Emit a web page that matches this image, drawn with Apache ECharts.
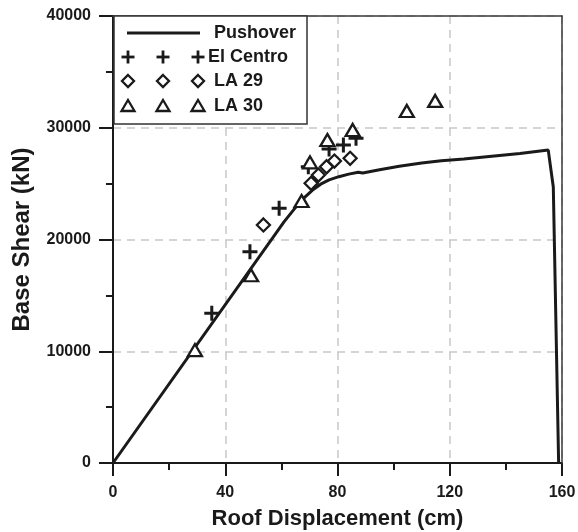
<!DOCTYPE html>
<html>
<head>
<meta charset="utf-8">
<script src="https://cdn.jsdelivr.net/npm/echarts@6/dist/echarts.min.js"></script>
<style>
html,body{margin:0;padding:0;background:#fff;}
#chart{width:578px;height:532px;}
</style>
</head>
<body>
<div id="chart"></div>
<script>
// Pushover curve (roof displacement cm, base shear kN)
var pushX = [0, 61, 64.5, 67.8, 71, 74, 77, 80.5, 84, 87.4, 89, 95, 102, 110, 117, 125, 135, 145, 155.1, 156.9, 158.8];
var pushY = [0, 21600, 22700, 23650, 24400, 24950, 25330, 25620, 25850, 26020, 25950, 26250, 26550, 26850, 27050, 27200, 27450, 27700, 28000, 24700, 0];

var elCentroX = [35.2, 48.8, 59.2, 69.6, 77.0, 82.1, 86.6];
var elCentroY = [13400, 18900, 22800, 26500, 28100, 28460, 29060];

var la29X = [53.6, 70.6, 73.2, 76.1, 78.9, 84.5];
var la29Y = [21300, 25030, 25770, 26510, 27020, 27270];

var la30X = [29.2, 49.2, 67.2, 70.2, 76.4, 85.4, 104.7, 114.8];
var la30Y = [10100, 16800, 23440, 26900, 28900, 29800, 31500, 32400];

var xTicks = [0, 40, 80, 120, 160];
var yTicks = [0, 10000, 20000, 30000, 40000];

function pairs(xs, ys){ return xs.map(function(x,i){ return [x, ys[i]]; }); }

var FONT = '"Liberation Sans", Arial, Helvetica, sans-serif';
var INK = '#1a1a1a';
var PLUS = 'path://M5.6,0H8.4V5.6H14V8.4H8.4V14H5.6V8.4H0V5.6H5.6Z';

var chart = echarts.init(document.getElementById('chart'), null, {renderer:'canvas'});

var legendRows = [
  {name:'Pushover', y:33, type:'line', tx:214},
  {name:'El Centro', y:57, type:'plus', tx:208},
  {name:'LA 29', y:81, type:'diamond', tx:214},
  {name:'LA 30', y:106, type:'triangle', tx:214}
];
var gEls = [{
  type:'rect', shape:{x:114, y:16, width:193, height:108},
  style:{fill:'#fff', stroke:'#333', lineWidth:1.5}, z:100
}];
legendRows.forEach(function(r){
  if (r.type === 'line') {
    gEls.push({type:'line', shape:{x1:127,y1:r.y,x2:200,y2:r.y}, style:{stroke:INK, lineWidth:2.8}, z:101});
  } else {
    [128,163,198].forEach(function(cx){
      if (r.type === 'plus') {
        gEls.push({type:'polyline', shape:{points:[[cx-6.5,r.y],[cx+6.5,r.y]]}, style:{stroke:INK,lineWidth:2.8,fill:null}, z:101});
        gEls.push({type:'polyline', shape:{points:[[cx,r.y-6.5],[cx,r.y+6.5]]}, style:{stroke:INK,lineWidth:2.8,fill:null}, z:101});
      } else if (r.type === 'diamond') {
        gEls.push({type:'polygon', shape:{points:[[cx,r.y-6],[cx+6,r.y],[cx,r.y+6],[cx-6,r.y]]}, style:{stroke:INK,lineWidth:2.3,fill:'#fff'}, z:101});
      } else {
        gEls.push({type:'polygon', shape:{points:[[cx,r.y-6],[cx+6.5,r.y+5],[cx-6.5,r.y+5]]}, style:{stroke:INK,lineWidth:2.3,fill:'#fff'}, z:101});
      }
    });
  }
  gEls.push({type:'text', x:r.tx, y:r.y, style:{text:r.name, fill:INK, font:'bold 18px '+FONT, textVerticalAlign:'middle'}, z:101});
});

var gridLine = {show:true, lineStyle:{color:'#c8c8c8', width:1.5, type:[8,6]}};

var option = {
  animation:false,
  backgroundColor:'#fff',
  grid:{left:113, right:16, top:16, bottom:69, containLabel:false, outerBoundsMode:'none'},
  xAxis:[{
    type:'value', min:0, max:160, interval:40,
    name:'Roof Displacement (cm)', nameLocation:'middle', nameGap:45, nameMoveOverlap:false,
    nameTextStyle:{fontFamily:FONT, fontWeight:'bold', fontSize:22, color:INK},
    axisLine:{show:true, onZero:false, lineStyle:{color:INK, width:2}},
    axisTick:{show:true, inside:false, length:13, lineStyle:{color:INK, width:2}},
    minorTick:{show:true, splitNumber:2, length:7, lineStyle:{color:INK, width:2}},
    axisLabel:{fontFamily:FONT, fontWeight:'bold', fontSize:16, color:INK, margin:22,
      formatter:function(v){ return xTicks.indexOf(v)>=0 ? String(v) : ''; }},
    splitLine:gridLine
  },{
    type:'value', min:0, max:160, position:'top', z:10,
    axisLine:{show:true, onZero:false, lineStyle:{color:'#3a3a3a', width:1.5}},
    axisTick:{show:false}, axisLabel:{show:false}, splitLine:{show:false}
  }],
  yAxis:[{
    type:'value', min:0, max:40000, interval:10000,
    name:'Base Shear (kN)', nameLocation:'middle', nameGap:79, nameRotate:90, nameMoveOverlap:false,
    nameTextStyle:{fontFamily:FONT, fontWeight:'bold', fontSize:24, color:INK},
    axisLine:{show:true, onZero:false, lineStyle:{color:INK, width:2}},
    axisTick:{show:true, inside:false, length:14, lineStyle:{color:INK, width:2}},
    minorTick:{show:true, splitNumber:2, length:7, lineStyle:{color:INK, width:2}},
    axisLabel:{fontFamily:FONT, fontWeight:'bold', fontSize:16, color:INK, margin:22,
      formatter:function(v){ return yTicks.indexOf(v)>=0 ? String(v) : ''; }},
    splitLine:gridLine
  },{
    type:'value', min:0, max:40000, position:'right', z:10,
    axisLine:{show:true, onZero:false, lineStyle:{color:'#3a3a3a', width:1.5}},
    axisTick:{show:false}, axisLabel:{show:false}, splitLine:{show:false}
  }],
  series:[
    {type:'line', name:'Pushover', data:pairs(pushX, pushY), showSymbol:false, symbol:'none',
      lineStyle:{color:INK, width:3}, z:3},
    {type:'scatter', name:'El Centro', data:pairs(elCentroX, elCentroY), symbol:PLUS, symbolSize:15,
      itemStyle:{color:INK, borderWidth:0, opacity:1}, z:4},
    {type:'scatter', name:'LA 29', data:pairs(la29X, la29Y), symbol:'diamond', symbolSize:[13,13],
      itemStyle:{color:'#fff', borderColor:INK, borderWidth:2.3, opacity:1}, z:4},
    {type:'scatter', name:'LA 30', data:pairs(la30X, la30Y), symbol:'triangle', symbolSize:[14,12],
      itemStyle:{color:'#fff', borderColor:INK, borderWidth:2.3, opacity:1}, z:4}
  ],
  graphic:{elements:gEls}
};
chart.setOption(option);
</script>
</body>
</html>
